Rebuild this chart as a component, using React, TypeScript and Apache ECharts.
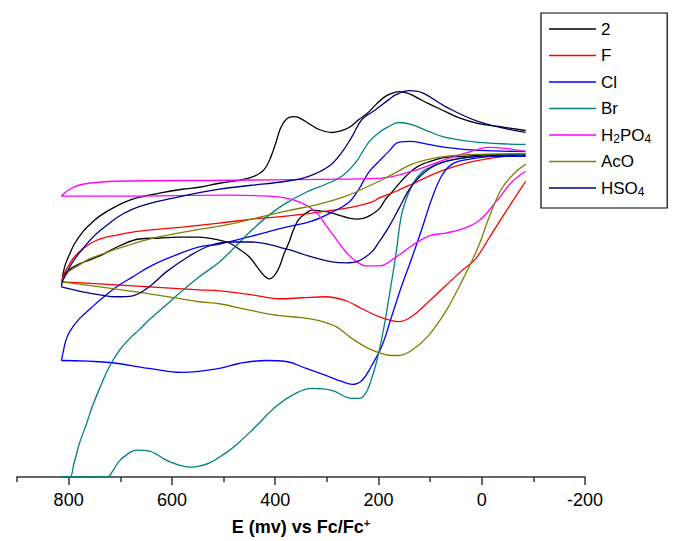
import React, { useEffect, useRef } from "react";
import * as echarts from "echarts";

// Potential E (mV vs Fc/Fc+) and current (arbitrary units).
// Each list runs from the right end of one branch, through the ~810 mV vertex, to the right end of the other branch.
const curve2: [number, number][] = [
  [-85, 35.0], [-33, 35.4], [6, 35.7], [45, 36.3], [70, 36.9], [103, 37.7], [122, 38.2], [141, 38.7],
  [161, 38.9], [176, 38.7], [190, 38.3], [205, 37.6], [222, 36.7], [238, 36.1], [257, 35.3], [277, 34.9],
  [290, 34.8], [315, 35.1], [335, 35.7], [354, 36.3], [364, 36.4], [377, 36.2], [389, 35.3], [398, 33.9],
  [408, 32.4], [421, 31.1], [441, 30.4], [470, 30.0], [508, 29.7], [547, 29.3], [580, 29.1], [624, 28.7],
  [676, 28.1], [711, 27.3], [740, 26.4], [760, 25.5], [773, 24.8], [789, 23.6], [798, 22.6], [806, 21.6],
  [811, 20.6], [812, 20.3],
  [802, 20.9], [779, 21.6], [740, 22.4], [702, 23.4], [663, 24.1], [624, 24.2], [586, 24.3], [547, 24.3],
  [518, 24.1], [489, 23.7], [470, 23.1], [450, 22.3], [435, 21.3], [421, 20.4], [412, 20.1], [402, 20.4],
  [392, 21.3], [383, 22.6], [373, 23.8], [364, 25.1], [354, 26.1], [340, 26.7], [329, 27.0], [311, 26.9],
  [296, 26.8], [277, 26.5], [257, 26.2], [242, 26.1], [228, 26.2], [215, 26.5], [199, 27.1], [186, 28.1],
  [174, 28.8], [161, 29.6], [147, 30.4], [132, 31.1], [116, 31.6], [93, 32.0], [70, 32.3], [35, 32.4],
  [6, 32.5], [-33, 32.6], [-85, 32.6],
];

const curveF: [number, number][] = [
  [-85, 32.6], [6, 32.0], [70, 31.1], [103, 30.4], [136, 29.6], [166, 28.9], [199, 28.2], [213, 27.8],
  [251, 27.3], [315, 26.8], [379, 26.4], [445, 26.1], [508, 25.7], [580, 25.3], [624, 25.1], [676, 24.8],
  [707, 24.5], [740, 24.1], [756, 23.7], [773, 23.1], [789, 22.3], [798, 21.6], [804, 21.1], [810, 20.5],
  [814, 19.8],
  [740, 19.6], [644, 19.3], [547, 19.0], [508, 18.9], [445, 18.5], [392, 18.1], [348, 18.2], [302, 18.3],
  [263, 17.9], [232, 17.1], [199, 16.3], [174, 15.9], [161, 15.8], [136, 16.3], [103, 17.8], [70, 19.4],
  [39, 20.9], [12, 22.1], [-13, 24.1], [-46, 26.8], [-85, 29.9],
];

const curveCl: [number, number][] = [
  [-85, 32.9], [6, 33.0], [70, 33.3], [103, 33.6], [136, 33.9], [161, 33.8], [180, 32.9], [199, 31.9],
  [219, 30.8], [238, 29.1], [257, 27.8], [290, 26.8], [329, 25.9], [379, 25.3], [445, 24.4], [508, 23.6],
  [547, 23.3], [611, 22.1], [644, 21.3], [676, 20.3], [707, 19.3], [734, 18.2], [754, 17.3], [779, 16.1],
  [798, 14.8], [806, 13.8], [810, 12.9], [814, 11.9],
  [721, 11.7], [644, 11.1], [580, 10.7], [508, 11.1], [470, 11.6], [418, 11.9], [379, 11.8], [340, 11.1],
  [302, 10.4], [271, 9.8], [251, 9.5], [232, 9.9], [213, 11.4], [193, 13.4], [174, 16.4], [155, 19.4],
  [136, 22.1], [116, 25.1], [97, 28.1], [78, 30.4], [58, 31.6], [25, 32.1], [-27, 32.4], [-85, 32.4],
];

const curveBr: [number, number][] = [
  [-85, 33.6], [6, 33.8], [70, 34.3], [103, 34.9], [136, 35.6], [161, 35.8], [180, 35.4], [199, 34.8],
  [219, 33.8], [244, 31.8], [271, 30.4], [302, 29.6], [340, 28.8], [379, 27.7], [412, 26.5], [445, 25.0],
  [476, 23.4], [508, 21.8], [547, 20.3], [580, 18.9], [615, 17.3], [644, 16.0], [663, 15.0], [682, 14.1],
  [702, 12.9], [721, 11.3], [740, 9.1], [754, 7.3], [765, 5.6], [779, 3.6], [790, 1.5], [798, 0.2],
  [814, 0.2],
  [759, 0.2], [725, 0.2], [721, 0.3], [711, 1.1], [702, 1.8], [686, 2.5], [669, 2.9], [644, 2.8],
  [611, 1.9], [586, 1.4], [566, 1.2], [547, 1.3], [528, 1.6], [502, 2.4], [476, 3.4], [441, 5.1],
  [398, 7.3], [364, 8.5], [329, 9.1], [290, 8.9], [251, 8.1], [238, 8.1], [226, 8.5], [215, 9.8],
  [203, 11.9], [191, 14.8], [180, 18.1], [166, 22.6], [155, 26.6], [141, 28.8], [128, 30.1], [108, 31.1],
  [70, 31.9], [6, 32.4], [-85, 32.6],
];

const curveH2PO4: [number, number][] = [
  [-85, 32.9], [-46, 33.2], [-13, 33.3], [20, 32.9], [70, 32.1], [136, 30.9], [199, 30.2], [315, 30.1],
  [489, 30.0], [707, 29.9], [773, 29.6], [798, 29.1], [814, 28.4],
  [707, 28.4], [489, 28.5], [412, 28.4], [379, 28.2], [348, 27.7], [321, 26.8], [302, 25.5], [282, 24.1],
  [263, 22.8], [244, 21.9], [224, 21.4], [199, 21.4], [166, 22.3], [136, 23.4], [103, 24.4], [70, 24.7],
  [39, 25.1], [6, 25.9], [-27, 27.8], [-58, 29.8], [-85, 30.9],
];

const curveAcO: [number, number][] = [
  [-85, 32.7], [6, 32.6], [70, 32.4], [103, 32.1], [136, 31.6], [166, 30.8], [199, 29.9], [224, 29.3],
  [263, 28.4], [315, 27.6], [379, 26.9], [445, 26.1], [508, 25.4], [566, 24.9], [644, 24.1], [676, 23.6],
  [707, 23.1], [734, 22.6], [760, 22.1], [779, 21.5], [792, 21.1], [800, 20.8], [808, 20.3], [814, 19.8],
  [740, 19.3], [644, 18.6], [547, 17.8], [508, 17.6], [445, 16.9], [392, 16.4], [348, 16.2], [315, 15.9],
  [282, 15.3], [251, 14.1], [219, 13.1], [193, 12.6], [174, 12.4], [161, 12.4], [136, 12.9], [103, 14.4],
  [70, 16.8], [39, 19.8], [6, 23.4], [-13, 26.1], [-38, 29.1], [-65, 30.8], [-85, 31.6],
];

const curveHSO4: [number, number][] = [
  [-85, 34.8], [6, 35.9], [70, 37.4], [116, 38.8], [141, 39.0], [166, 38.6], [180, 38.1], [205, 37.1],
  [232, 36.1], [251, 34.4], [271, 32.8], [296, 31.4], [335, 30.4], [379, 29.9], [445, 29.5], [508, 29.1],
  [580, 28.4], [676, 27.1], [740, 24.9], [773, 23.1], [792, 21.8], [806, 20.5], [812, 19.8], [814, 19.3],
  [773, 18.8], [740, 18.5], [707, 18.3], [676, 18.4], [644, 19.3], [611, 20.8], [566, 22.4], [528, 23.4],
  [489, 23.8], [445, 23.8], [379, 23.1], [329, 22.3], [290, 21.8], [263, 21.7], [238, 21.9], [213, 22.8],
  [199, 23.8], [180, 25.3], [161, 27.1], [136, 29.4], [103, 31.1], [70, 31.9], [6, 32.4], [-85, 32.5],
];

const seriesNames = ["2", "F", "Cl", "Br", "H2PO4", "AcO", "HSO4"];
const seriesColors = ["#000000", "#FF0000", "#0000FF", "#008080", "#FF00FF", "#808000", "#000080"];
const seriesData = [curve2, curveF, curveCl, curveBr, curveH2PO4, curveAcO, curveHSO4];

const majorTicks = [800, 600, 400, 200, 0, -200];
const minorTicks = [900, 700, 500, 300, 100, -100];

const FONT = "'Liberation Sans', Arial, Helvetica, sans-serif";

// split a cyclic voltammogram at its switching vertex (largest potential) into two sweeps
function splitAtVertex(d: [number, number][]) {
  let vi = 0;
  d.forEach((p, i) => {
    if (p[0] > d[vi][0]) vi = i;
  });
  return [d.slice(0, vi + 1), d.slice(vi)];
}

export default function App() {
  const ref = useRef<HTMLDivElement>(null);
  useEffect(() => {
    if (!ref.current) return;
    const chart = echarts.init(ref.current, null, { renderer: "svg" });
    const legendFormatter = (name: string) => {
      if (name === "H2PO4") return "{n|H}{s|2}{n|PO}{s|4}";
      if (name === "HSO4") return "{n|HSO}{s|4}";
      return "{n|" + name + "}";
    };
    const series: any[] = [];
    seriesNames.forEach((name, i) => {
      const branches = splitAtVertex(seriesData[i]);
      branches.forEach((b) => {
        series.push({
          name,
          type: "line",
          xAxisIndex: 0,
          data: b,
          symbol: "none",
          showSymbol: false,
          smooth: 0.4,
          clip: false,
          color: seriesColors[i],
          lineStyle: { color: seriesColors[i], width: 1.3 },
        });
      });
    });
    chart.setOption({
      animation: false,
      backgroundColor: "#ffffff",
      grid: { left: 17, right: 88, top: 10, bottom: 62 },
      legend: {
        orient: "vertical",
        left: 541,
        top: 13,
        padding: [6, 16, 10, 8],
        borderColor: "#000",
        borderWidth: 1.2,
        icon: "rect",
        itemWidth: 47,
        itemHeight: 1.5,
        itemGap: 6.5,
        data: seriesNames,
        formatter: legendFormatter,
        textStyle: {
          fontFamily: FONT,
          fontSize: 17,
          color: "#000",
          lineHeight: 20,
          rich: {
            n: { fontFamily: FONT, fontSize: 17, color: "#000", lineHeight: 20 },
            s: { fontFamily: FONT, fontSize: 12, color: "#000", lineHeight: 6, verticalAlign: "bottom" },
          },
        },
      },
      xAxis: [
        {
          type: "value",
          min: -200,
          max: 900,
          inverse: true,
          position: "bottom",
          name: "{a|E (mv) vs Fc/Fc}{b|+}",
          nameLocation: "middle",
          nameGap: 40,
          nameTextStyle: {
            rich: {
              a: { fontFamily: FONT, fontSize: 18, fontWeight: "bold", color: "#000", lineHeight: 20 },
              b: { fontFamily: FONT, fontSize: 11, fontWeight: "bold", color: "#000", lineHeight: 8, verticalAlign: "top" },
            },
          },
          axisLine: { show: true, onZero: false, lineStyle: { color: "#333", width: 1.6 } },
          axisTick: { show: true, customValues: majorTicks, length: 8, lineStyle: { color: "#333", width: 1.5 } },
          axisLabel: {
            show: true,
            customValues: majorTicks,
            margin: 14,
            fontFamily: FONT,
            fontSize: 18,
            color: "#000",
          },
          splitLine: { show: false },
        },
        {
          type: "value",
          min: -200,
          max: 900,
          inverse: true,
          position: "bottom",
          axisLine: { show: false, onZero: false },
          axisTick: { show: true, customValues: minorTicks, length: 5, lineStyle: { color: "#333", width: 1.5 } },
          axisLabel: { show: false },
          splitLine: { show: false },
        },
      ],
      yAxis: { type: "value", min: 0.2, max: 47.1, show: false },
      series,
    });
    return () => chart.dispose();
  }, []);
  return <div ref={ref} style={{ position: "fixed", left: 0, top: 0, width: 673, height: 541 }} />;
}
